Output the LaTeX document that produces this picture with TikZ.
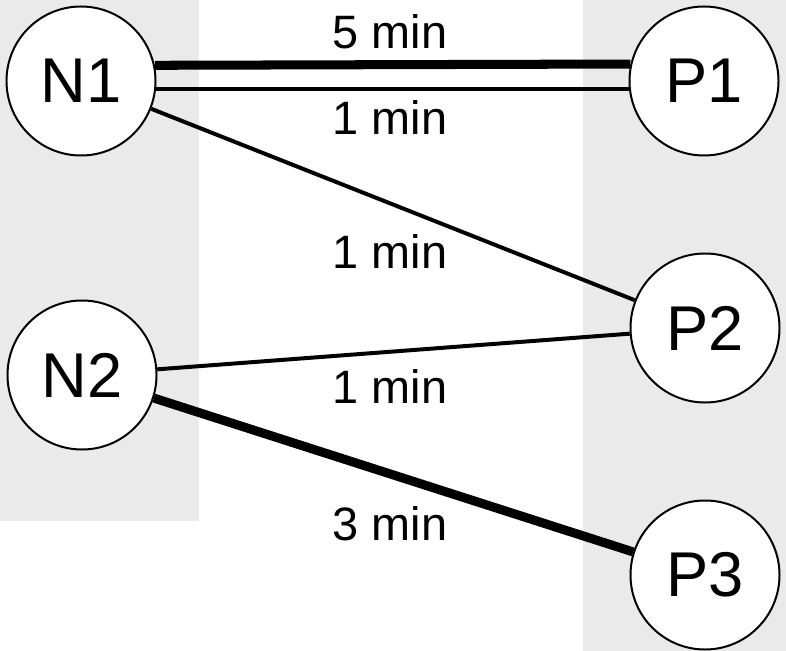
\documentclass[tikz,border=0pt]{standalone}
\usepackage{fontspec}
\setmainfont{Liberation Sans}
\usepackage{tikz}
\usetikzlibrary{positioning}
\usepackage{xcolor}
\definecolor{PanelGrey}{RGB}{234,234,234}

\begin{document}
\begin{tikzpicture}[x=0.03cm, y=-0.03cm,
          panel/.style={fill=PanelGrey, draw=none},
          station/.style={circle, draw=black, fill=white, line width=1.7pt, minimum size=4.47cm, inner sep=0pt, font=\fontsize{54}{60}\selectfont},
          thinlink/.style={line width=3.4pt},
          thicklink/.style={line width=7.7pt},
          delay/.style={anchor=base, font=\fontsize{40}{46}\selectfont}
        ]
          \useasboundingbox (0,0) rectangle (786,651);
          \fill[panel] (0,0) rectangle (199,521); % left column
          \fill[panel] (583,0) rectangle (786,651); % right column
          \node (n1) [station] at (81,81) {N1};
          \node (n2) [station] at (82,375) {N2};
          \node (p1) [station] at (704,81) {P1};
          \node (p2) [station] at (705,328) {P2};
          \node (p3) [station] at (705,575) {P3};
          \draw[thicklink] (n1.12.3) -- (p1.167.7);
          \draw[thinlink] (n1.-6.1) -- (p1.186.1);
          \draw[thinlink] (n1) -- (p2);
          \draw[thinlink] (n2) -- (p2);
          \draw[thicklink] (n2) -- (p3);
          \node (t5) [delay] at (390,49) {5 min};
          \node (t1a) [delay] at (390,135) {1 min};
          \node (t1b) [delay] at (390,268) {1 min};
          \node (t1c) [delay] at (390,403) {1 min};
          \node (t3) [delay] at (390,540) {3 min};
        \end{tikzpicture}
\end{document}
